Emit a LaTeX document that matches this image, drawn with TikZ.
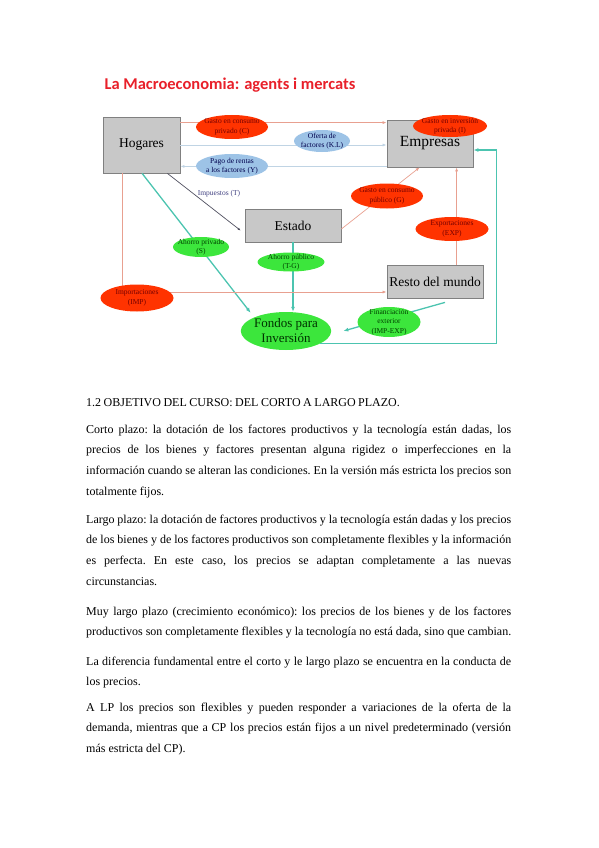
\documentclass[tikz,border=0pt]{standalone}
\usepackage{fontspec}
\setmainfont{Liberation Serif}
\newfontfamily\titlefont{Carlito}
\usetikzlibrary{shapes.geometric,arrows.meta,calc}

\definecolor{boxgray}{HTML}{C8C8C8}
\definecolor{boxline}{HTML}{808080}
\definecolor{ovred}{HTML}{FF3300}
\definecolor{ovblue}{HTML}{9DC3E6}
\definecolor{ovgreen}{HTML}{3CE63C}
\definecolor{lnsalmon}{HTML}{E8A090}
\definecolor{lnblue}{HTML}{C0D4E4}
\definecolor{lnteal}{HTML}{4CC4B0}
\definecolor{lndark}{HTML}{505060}
\definecolor{titlered}{HTML}{E8202A}

\begin{document}
\begin{tikzpicture}[x=1pt,y=-1pt,
    agent/.style={draw=boxline,fill=boxgray,line width=0.8pt,inner sep=0pt},
    ovbase/.style={ellipse,inner xsep=-9pt,inner ysep=-3pt,align=center,
        font=\fontsize{7.5}{9.5}\selectfont},
    redov/.style={ovbase,fill=ovred,text=red!45!black},
    blueov/.style={ovbase,fill=ovblue,text=blue!30!black},
    greenov/.style={ovbase,fill=ovgreen,text=green!25!black},
    money/.style={draw=lnsalmon,line width=0.7pt,-{Latex[length=4pt,width=3pt]}},
    real/.style={draw=lnblue,line width=0.7pt,-{Latex[length=4pt,width=3pt]}},
    tax/.style={draw=lndark,line width=0.7pt,-{Latex[length=3pt,width=2.5pt]}},
    saving/.style={draw=lnteal,line width=1.3pt,-{Latex[length=5pt,width=4pt]}},
    body/.style={anchor=base west,text width=425pt,inner sep=0pt,align=justify,
        font=\fontsize{12}{20.7}\selectfont,
        execute at begin node={\frenchspacing\tolerance=9999\hyphenpenalty=10000
            \spaceskip=3pt plus 4pt minus 2.5pt}}
]
    \useasboundingbox (0,0) rectangle (599,848);

    \node[anchor=west,text=titlered,font=\titlefont\bfseries\fontsize{16.5}{19}\selectfont]
        (title) at (101,85) {La Macroeconomia: agents i mercats};

    % agents
    \node[agent,minimum width=77pt,minimum height=56pt,font=\fontsize{13.5}{16}\selectfont]
        (hog) at (141.5,145) {Hogares};
    \node[agent,minimum width=86pt,minimum height=47pt,font=\fontsize{15.5}{18}\selectfont]
        (emp) at (430,143.5) {Empresas};
    \node[agent,minimum width=96pt,minimum height=33pt,font=\fontsize{13.5}{16}\selectfont]
        (est) at (293,225.5) {Estado};
    \node[agent,minimum width=96pt,minimum height=33pt,font=\fontsize{13.5}{16}\selectfont]
        (res) at (435,281.5) {Resto del mundo};
    \node[ellipse,fill=ovgreen,minimum width=82pt,minimum height=38pt,inner sep=0pt,
        align=center,text=green!20!black,font=\fontsize{13}{15}\selectfont]
        (fon) at (286,331) {Fondos para\\Inversión};

    % flows
    \draw[money] ($(hog.north east)+(0,6)$) -- ($(emp.north west)+(0,3)$);
    \draw[real] (hog.east) -- (hog.east -| emp.west);
    \draw[real] ($(emp.south west)+(0,-1)$) coordinate (yst) -- (yst -| hog.east);
    \draw[tax] ($(hog.south east)+(-13,0)$) -- ($(est.west)+(-4,5)$);
    \draw[saving] ($(hog.south west)+(39.5,0)$) -- ($(fon.west |- fon.north)+(10,1)$);
    \draw[saving] (est.south) -- (est.south |- fon.north);
    \draw[money] ($(est.east)+(0,3.5)$) -- ($(emp.south west)+(33,0)$);
    \draw[money] ($(res.north west)+(70,0)$) coordinate (exs) -- (exs |- emp.south);
    \draw[money] ($(hog.south west)+(20,0)$) |- ($(res.west)+(0,10.5)$);
    \draw[saving] ($(res.south)+(10,4)$) -- ($(fon.east)+(12,0)$);
    \draw[saving] (fon.-20) -| ($(emp.east)+(23,6.5)$) -- ($(emp.east)+(0,6.5)$);

    % labels on the flows
    \node[redov,minimum width=72pt,minimum height=24pt] (lc) at (232,127)
        {Gasto en consumo\\privado (C)};
    \node[redov,minimum width=74pt,minimum height=22pt] (li) at (450,126)
        {Gasto en inversión\\privada (I)};
    \node[blueov,minimum width=56pt,minimum height=22pt] (lkl) at (322,141)
        {Oferta de\\factores (K.L)};
    \node[blueov,minimum width=72pt,minimum height=24pt] (ly) at (232,166)
        {Pago de rentas\\a los factores (Y)};
    \node[text=lndark!80!blue,font=\fontsize{7.5}{9}\selectfont] (lt) at (219,194)
        {Impuestos (T)};
    \node[redov,minimum width=72pt,minimum height=25pt] (lg) at (387,196)
        {Gasto en consumo\\público (G)};
    \node[redov,minimum width=73pt,minimum height=24pt] (lexp) at (452,229)
        {Exportaciones\\(EXP)};
    \node[greenov,minimum width=56pt,minimum height=20pt] (ls) at (201,247)
        {Ahorro privado\\(S)};
    \node[greenov,minimum width=67pt,minimum height=19pt] (ltg) at (291,262)
        {Ahorro público\\(T-G)};
    \node[redov,minimum width=73pt,minimum height=27pt] (limp) at (137,298)
        {Importaciones\\(IMP)};
    \node[greenov,minimum width=63pt,minimum height=30pt] (lfin) at (389,322)
        {Financiación\\exterior\\(IMP-EXP)};

    % text of the page
    \node[body,execute at begin node={\spaceskip=2.5pt}] (head) at (86,406)
        {1.2 OBJETIVO DEL CURSO: DEL CORTO A LARGO PLAZO.};
    \node[body] (par1) at (86,433) {Corto plazo: la dotación de los factores productivos
        y la tecnología están dadas, los\linebreak precios de los bienes y factores presentan
        alguna rigidez o imperfecciones en la\linebreak información cuando se alteran las
        condiciones. En la versión más estricta los precios son\linebreak totalmente fijos.};
    \node[body] (par2) at (86,523) {Largo plazo: la dotación de factores productivos y la
        tecnología están dadas y los precios\linebreak de los bienes y de los factores
        productivos son completamente flexibles y la información\linebreak es perfecta. En
        este caso, los precios se adaptan completamente a las nuevas\linebreak circunstancias.};
    \node[body] (par3) at (86,615) {Muy largo plazo (crecimiento económico): los precios de
        los bienes y de los factores\linebreak productivos son completamente flexibles y la
        tecnología no está dada, sino que cambian.};
    \node[body] (par4) at (86,665) {La diferencia fundamental entre el corto y le largo plazo
        se encuentra en la conducta de\linebreak los precios.};
    \node[body] (par5) at (86,711) {A LP los precios son flexibles y pueden responder a
        variaciones de la oferta de la\linebreak demanda, mientras que a CP los precios están
        fijos a un nivel predeterminado (versión\linebreak más estricta del CP).};
\end{tikzpicture}
\end{document}
